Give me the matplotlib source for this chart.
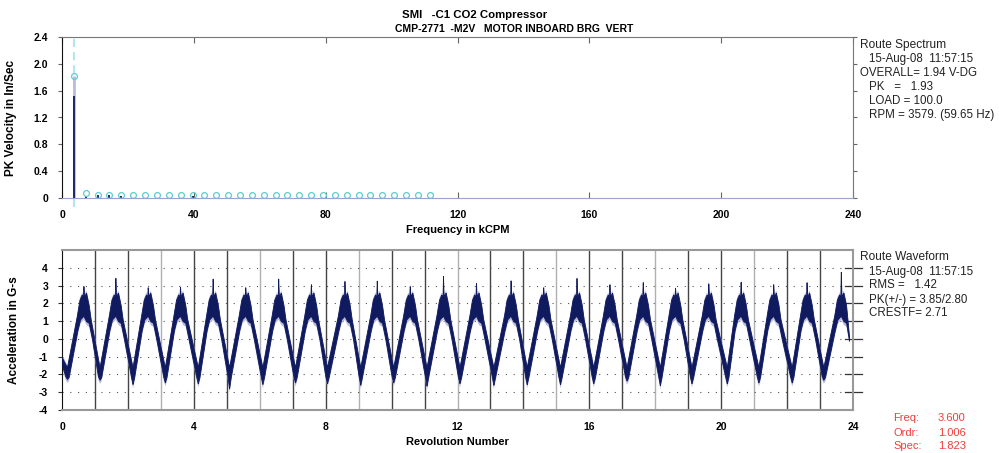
import matplotlib.pyplot as plt
import numpy as np

plt.rcParams['font.family'] = ['Liberation Sans', 'DejaVu Sans']

# ---- spectrum (kCPM / in/sec) ----
cursor_freq = 3.600
spec_amp = 1.823
n_harm = 31
harm_amps = [1.823, 0.08, 0.05, 0.05, 0.05, 0.04, 0.04, 0.04, 0.04, 0.04,
             0.04, 0.04, 0.045, 0.045, 0.04, 0.04, 0.04, 0.04, 0.04, 0.04,
             0.04, 0.04, 0.04, 0.04, 0.045, 0.045, 0.04, 0.04, 0.04, 0.04, 0.04]
harm_dark = [1.52, 0.03, 0.04, 0.04, 0.03, 0.0, 0.0, 0.0, 0.0, 0.0,
             0.03, 0.0, 0.0, 0.0, 0.0, 0.0, 0.0, 0.0, 0.0, 0.0,
             0.0, 0.0, 0.0, 0.0, 0.0, 0.0, 0.0, 0.0, 0.0, 0.0, 0.0]
spec_xticks = [0, 40, 80, 120, 160, 200, 240]
spec_yticks = [0, 0.4, 0.8, 1.2, 1.6, 2.0, 2.4]
spec_ylabels = ['0', '0.4', '0.8', '1.2', '1.6', '2.0', '2.4']

# ---- waveform (revolutions / G-s) ----
trough_x = [0.15, 1.14, 2.14, 3.12, 4.12, 5.07, 6.08, 7.07, 8.04, 9.05, 10.05, 11.06,
            12.06, 13.09, 14.10, 15.11, 16.12, 17.13, 18.14, 19.10, 20.17, 21.13, 22.14, 23.10]
trough_lo = [-2.25, -2.3, -2.55, -2.45, -2.5, -2.8, -2.55, -2.45, -2.5, -2.6, -2.45, -2.65,
             -2.5, -2.6, -2.55, -2.55, -2.5, -2.35, -2.6, -2.5, -2.5, -2.45, -2.45, -2.3]
peak_x = [0.65, 1.62, 2.60, 3.58, 4.57, 5.56, 6.56, 7.55, 8.57, 9.55, 10.55, 11.56,
          12.56, 13.61, 14.60, 15.61, 16.61, 17.62, 18.60, 19.61, 20.59, 21.58, 22.59, 23.63]
peak_hi = [3.03, 3.44, 2.93, 2.99, 3.40, 2.93, 3.40, 3.12, 3.27, 3.30, 3.03, 3.55,
           3.20, 3.30, 2.93, 3.55, 3.12, 3.30, 2.90, 3.20, 3.30, 3.12, 3.20, 3.85]
wave_start = (0.0, -1.05, -1.5)
wave_end = (23.88, 0.15, -0.1)

navy = '#101a5e'
lav = '#b9bcdc'
cyan = '#5fcbd6'
tfont = dict(fontsize=7.5, fontweight='bold')

fig = plt.figure(figsize=(9.99, 4.53), dpi=100)
ax1 = fig.add_axes([62/999, 1-198/453, 791/999, 161/453])
ax2 = fig.add_axes([62/999, 1-410/453, 791/999, 160/453])

# spectrum panel
hx = cursor_freq * np.arange(1, n_harm + 1)
ax1.vlines(hx[0], 0, spec_amp, color=lav, lw=2)
ax1.vlines(hx, 0, harm_dark, color=navy, lw=1.3)
ax1.plot(hx, harm_amps, 'o', ms=4.2, mfc='none', mec=cyan, mew=0.9, clip_on=False)
ax1.plot([cursor_freq, cursor_freq], [-0.13, 2.4], color='#a6e2ea', lw=1.2,
         dashes=(5, 3), clip_on=False, zorder=0)
ax1.set_xlim(0, 240)
ax1.set_ylim(0, 2.4)
ax1.set_xticks(spec_xticks)
ax1.set_xticklabels([str(v) for v in spec_xticks], **tfont)
ax1.set_yticks(spec_yticks)
ax1.set_yticklabels(spec_ylabels, **tfont)
ax1.tick_params(axis='x', direction='in', top=True, length=4, pad=9, color='#666')
ax1.tick_params(axis='y', direction='out', right=True, length=3, pad=7, color='#666')
for s in ['top', 'right']:
    ax1.spines[s].set_color('#777')
ax1.spines['bottom'].set_color('#9aa2d0')
ax1.spines['left'].set_color('#111')
ax1.set_xlabel('Frequency in kCPM', fontsize=8, fontweight='bold', labelpad=3)
ax1.set_ylabel('PK Velocity in In/Sec', fontsize=8.5, fontweight='bold', labelpad=12)

# waveform panel: upper / lower envelopes of the trace, cycle by cycle
ux, uy = [wave_start[0]], [wave_start[1]]
lx, ly = [wave_start[0]], [wave_start[2]]
for t, lo, p, hi in zip(trough_x, trough_lo, peak_x, peak_hi):
    ux += [t, p - 0.2, p - 0.12, p - 0.05, p - 0.015, p, p + 0.02, p + 0.08, p + 0.16, p + 0.22]
    uy += [-1.6, 1.3, 2.2, 2.5, 2.3, hi, 2.4, 2.6, 1.9, 1.1]
    lx += [t - 0.05, t, t + 0.05, p - 0.18, p - 0.1, p, p + 0.08, p + 0.16, p + 0.26]
    ly += [-2.1, lo, -2.15, 0.5, 1.1, 1.3, 1.0, 0.9, 0.0]
ux, uy = np.array(ux), np.array(uy)
lx, ly = np.array(lx), np.array(ly)
keep_u = ux < wave_end[0] - 0.05
keep_l = lx < wave_end[0] - 0.05
ux = np.append(ux[keep_u], wave_end[0]); uy = np.append(uy[keep_u], wave_end[1])
lx = np.append(lx[keep_l], wave_end[0]); ly = np.append(ly[keep_l], wave_end[2])

xg = np.linspace(0, wave_end[0], 6000)
upper = np.interp(xg, ux, uy)
lower = np.interp(xg, lx, ly)
ax2.fill_between(xg, lower - 0.2, upper + 0.15, color=lav, lw=0, zorder=2)
ax2.fill_between(xg, lower, upper, color=navy, lw=0.6, edgecolor=navy, zorder=3)

for r in range(1, 24):
    ax2.axvline(r, color='#444' if r % 3 else '#b0b0b0', lw=1.0, zorder=1)
for g in range(-3, 5):
    ax2.axhline(g, color='#555', lw=0.8, ls=(0, (1, 6)), zorder=1)
ax2.set_xlim(0, 24)
ax2.set_ylim(-4, 5)
ax2.set_xticks([0, 4, 8, 12, 16, 20, 24])
ax2.set_xticklabels(['0', '4', '8', '12', '16', '20', '24'], **tfont)
ax2.set_yticks(range(-4, 5))
ax2.set_yticklabels([str(v) for v in range(-4, 5)], **tfont)
ax2.tick_params(axis='x', length=0, pad=9)
ax2.tick_params(axis='y', direction='out', length=3, pad=7, color='#333')
for g in range(-3, 5):
    ax2.plot([0.99, 1.012], [g, g], transform=ax2.get_yaxis_transform(),
             color='#333', lw=0.9, clip_on=False)
for s in ['top', 'right', 'bottom']:
    ax2.spines[s].set_color('#999')
    ax2.spines[s].set_linewidth(1.5)
ax2.spines['left'].set_color('#111')
ax2.set_xlabel('Revolution Number', fontsize=8, fontweight='bold', labelpad=3)
ax2.set_ylabel('Acceleration in G-s', fontsize=8.5, fontweight='bold', labelpad=14)

# titles
fig.text(475/999, 1-15/453, 'SMI   -C1 CO2 Compressor', ha='center', va='center',
         fontsize=8.2, fontweight='bold')
fig.text(514/999, 1-29/453, 'CMP-2771  -M2V   MOTOR INBOARD BRG  VERT', ha='center',
         va='center', fontsize=7.5, fontweight='bold')

# side info
def info(x, y, s, color='#222', size=8.3):
    fig.text(x/999, 1-y/453, s, ha='left', va='center', fontsize=size, color=color)

info(860, 45, 'Route Spectrum', size=8.6)
info(869, 59, '15-Aug-08  11:57:15')
info(860, 73, 'OVERALL= 1.94 V-DG')
info(869, 87, 'PK   =   1.93')
info(869, 101, 'LOAD = 100.0')
info(869, 115, 'RPM = 3579. (59.65 Hz)')

info(860, 257, 'Route Waveform', size=8.6)
info(869, 272, '15-Aug-08  11:57:15')
info(869, 285, 'RMS =   1.42')
info(869, 300, 'PK(+/-) = 3.85/2.80')
info(869, 313, 'CRESTF= 2.71')

red = '#f03c3c'
for y, lab, val in [(418, 'Freq:', f'{cursor_freq:.3f}'), (433, 'Ordr:', '1.006'),
                    (446, 'Spec:', f'{spec_amp:.3f}')]:
    info(893, y, lab, red, 8)
    info(938, y, val, red, 8)

fig.savefig('out.png', dpi=100)
